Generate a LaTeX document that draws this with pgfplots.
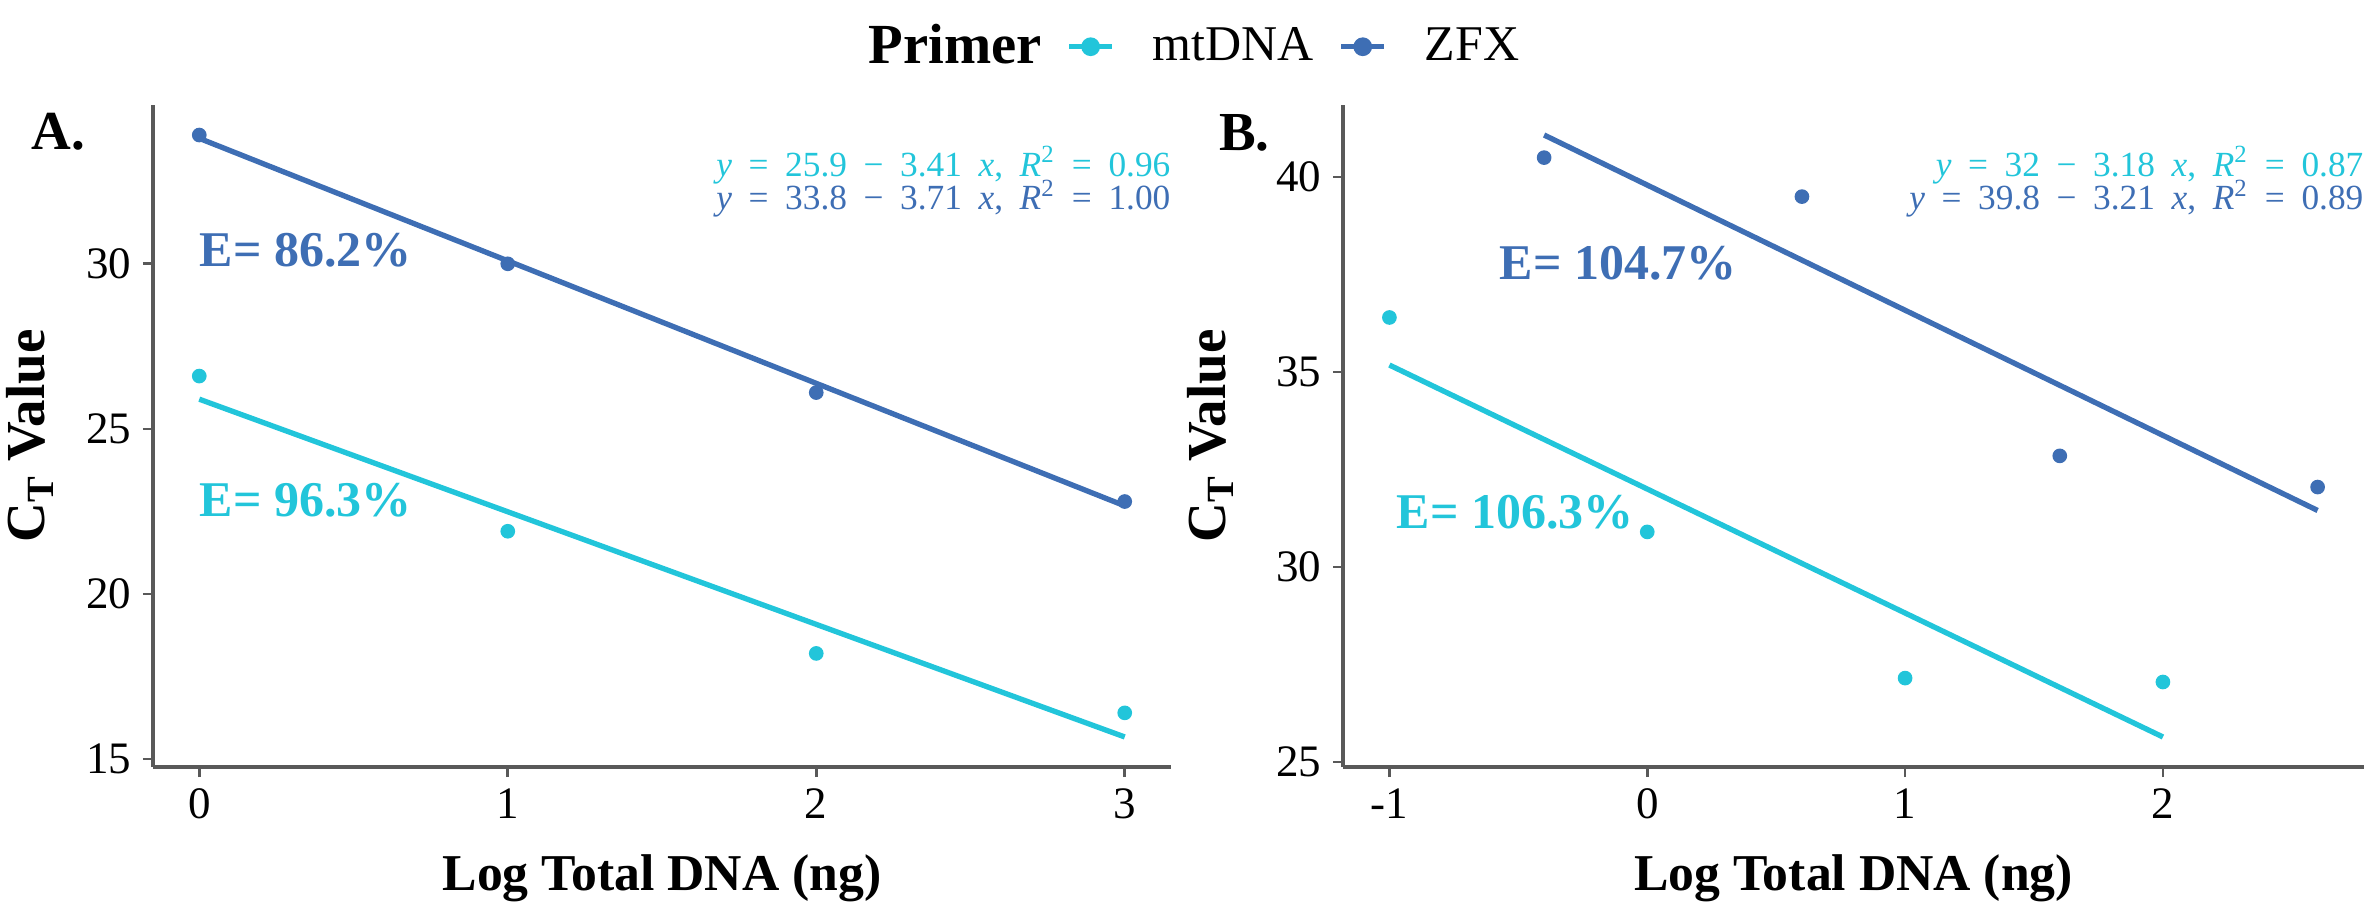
\documentclass[border=0pt]{standalone}
\usepackage{pgfplots}
\pgfplotsset{compat=1.18}
\usepackage{fontspec}
\setmainfont{Liberation Serif}
\definecolor{cyanc}{RGB}{34,197,218}
\definecolor{bluec}{RGB}{62,110,180}
\newcommand{\esp}{\hspace{0.47em}}
\tikzset{eqn/.style={anchor=east, inner sep=0pt, font=\fontsize{10.6}{11}\selectfont}}
\pgfplotsset{
  ctstyle/.style={
    scale only axis, height=198.6pt, clip=false,
    axis x line=bottom, axis y line=left,
    axis line style={-, black!65, line width=1.1pt},
    tick style={black!65, line width=0.8pt},
    tick align=outside, major tick length=3pt,
    ticklabel style={font=\fontsize{13.5}{14}\selectfont},
    /pgf/number format/assume math mode=true,
    xlabel={Log Total DNA (ng)},
    xlabel style={at={(axis description cs:0.5,-0.168)}, anchor=center, font=\fontsize{15.5}{16}\selectfont\bfseries},
    ylabel={C\textsubscript{T} Value},
    ylabel style={anchor=center, font=\fontsize{16.5}{17}\selectfont\bfseries},
  },
  ptsA/.style={only marks, mark=*, mark size=2pt, forget plot},
  fitl/.style={no marks, line width=1.6pt, forget plot},
}
\begin{document}
\begin{tikzpicture}
\useasboundingbox (0,0) rectangle (711pt,273pt);
% ---------------- Panel A ----------------
\begin{axis}[ctstyle, at={(45.9pt,42.9pt)}, width=305.4pt,
  xmin=-0.15, xmax=3.15, ymin=14.76, ymax=34.81,
  xtick={0,1,2,3}, ytick={15,20,25,30},
  ylabel style={at={(axis description cs:-0.121,0.5)}},
  legend columns=-1,
  legend image code/.code={\draw[mark repeat=2,mark phase=2,#1] plot coordinates {(0pt,0pt) (6.4pt,0pt) (12.8pt,0pt)};},
  legend style={at={(axis description cs:0.665,1.088)}, anchor=west, draw=none, fill=none, inner sep=0pt,
    font=\fontsize{15}{16}\selectfont,
    /tikz/every even column/.append style={column sep=5.5pt},
    /tikz/every odd column/.append style={column sep=9.4pt},
    /tikz/column 2/.append style={column sep=10pt}},
]
\addlegendimage{empty legend}
\addlegendentry{\fontsize{17}{18}\selectfont\bfseries Primer}
\addlegendimage{cyanc, line width=1.6pt, mark=*, mark size=2pt}
\addlegendentry{mtDNA}
\addlegendimage{bluec, line width=1.6pt, mark=*, mark size=2pt}
\addlegendentry{ZFX}
\addplot[ptsA, cyanc] coordinates {(0,26.6) (1,21.9) (2,18.2) (3,16.4)};
\addplot[ptsA, bluec] coordinates {(0,33.9) (1,30.0) (2,26.1) (3,22.8)};
\addplot[fitl, cyanc] coordinates {(0,25.9) (3,15.67)};
\addplot[fitl, bluec] coordinates {(0,33.8) (3,22.67)};
\node[eqn, text=cyanc] at (axis description cs:1,0.909)
  {\textit{y}\esp=\esp25.9\esp−\esp3.41\esp\textit{x},\esp\textit{R}\textsuperscript{2}\esp=\esp0.96};
\node[eqn, text=bluec] at (axis description cs:1,0.858)
  {\textit{y}\esp=\esp33.8\esp−\esp3.71\esp\textit{x},\esp\textit{R}\textsuperscript{2}\esp=\esp1.00};
\node[anchor=west, inner sep=0pt, text=bluec, font=\fontsize{15}{16}\selectfont\bfseries] at (axis cs:0,30.42) {E= 86.2\%};
\node[anchor=west, inner sep=0pt, text=cyanc, font=\fontsize{15}{16}\selectfont\bfseries] at (axis cs:0,22.85) {E= 96.3\%};
\node[anchor=west, inner sep=0pt, font=\fontsize{16.5}{17}\selectfont\bfseries] at (axis description cs:-0.120,0.960) {A.};
\end{axis}
% ---------------- Panel B ----------------
\begin{axis}[ctstyle, at={(402.9pt,42.9pt)}, width=306.3pt,
  xmin=-1.18, xmax=2.78, ymin=24.87, ymax=41.85,
  xtick={-1,0,1,2}, ytick={25,30,35,40},
  ylabel style={at={(axis description cs:-0.130,0.5)}},
]
\addplot[ptsA, cyanc] coordinates {(-1,36.4) (0,30.9) (1,27.15) (2,27.05)};
\addplot[ptsA, bluec] coordinates {(-0.4,40.5) (0.6,39.5) (1.6,32.85) (2.6,32.05)};
\addplot[fitl, cyanc] coordinates {(-1,35.18) (2,25.64)};
\addplot[fitl, bluec] coordinates {(-0.4,41.08) (2.6,31.45)};
\node[eqn, text=cyanc] at (axis description cs:1,0.909)
  {\textit{y}\esp=\esp32\esp−\esp3.18\esp\textit{x},\esp\textit{R}\textsuperscript{2}\esp=\esp0.87};
\node[eqn, text=bluec] at (axis description cs:1,0.858)
  {\textit{y}\esp=\esp39.8\esp−\esp3.21\esp\textit{x},\esp\textit{R}\textsuperscript{2}\esp=\esp0.89};
\node[anchor=west, inner sep=0pt, text=bluec, font=\fontsize{15}{16}\selectfont\bfseries] at (axis cs:-0.575,37.8) {E= 104.7\%};
\node[anchor=west, inner sep=0pt, text=cyanc, font=\fontsize{15}{16}\selectfont\bfseries] at (axis cs:-0.974,31.41) {E= 106.3\%};
\node[anchor=west, inner sep=0pt, font=\fontsize{16.5}{17}\selectfont\bfseries] at (axis description cs:-0.122,0.958) {B.};
\end{axis}
\end{tikzpicture}
\end{document}
